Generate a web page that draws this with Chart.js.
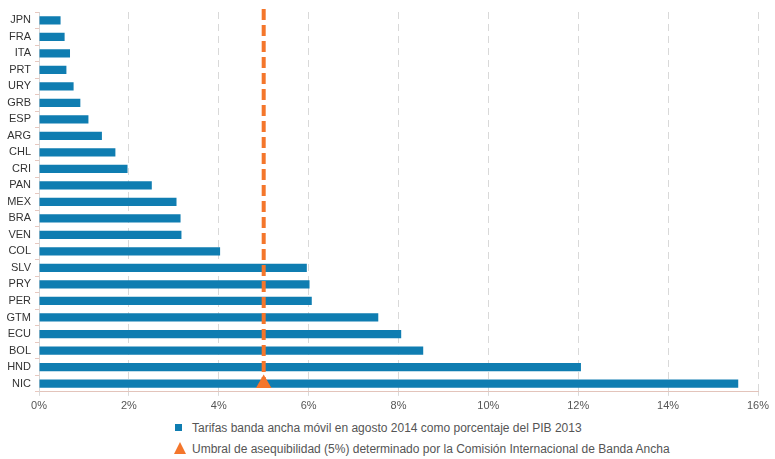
<!DOCTYPE html>
<html>
<head>
<meta charset="utf-8">
<script src="https://cdn.jsdelivr.net/npm/chart.js@4/dist/chart.umd.min.js"></script>
<style>
  html, body { margin: 0; padding: 0; background: #fff; }
  #wrap { position: relative; width: 775px; height: 459px; }
  #chart { position: absolute; left: 0; top: 0; }
  .legend { position: absolute; left: 174px; top: 417px; font: 12px 'Liberation Sans', Arial, sans-serif; color: #555; }
  .lg-row { display: flex; align-items: center; height: 21px; }
  .lg-sq { width: 7px; height: 7px; background: #0f7db1; margin: 0 10px 0 1px; }
  .lg-tri { width: 0; height: 0; border-left: 6px solid transparent; border-right: 6px solid transparent;
            border-bottom: 12px solid #f4762b; margin-right: 6px; margin-top: -2px; }
</style>
</head>
<body>
<div id="wrap">
  <canvas id="chart" width="775" height="417"></canvas>
  <div class="legend" id="legend"></div>
</div>
<script>
/* ── Data ───────────────────────────────────────────────── */
const countries = ['JPN','FRA','ITA','PRT','URY','GRB','ESP','ARG','CHL','CRI','PAN','MEX',
                   'BRA','VEN','COL','SLV','PRY','PER','GTM','ECU','BOL','HND','NIC'];
const tariffPct = [0.48, 0.57, 0.69, 0.61, 0.77, 0.92, 1.10, 1.40, 1.70, 1.97, 2.51, 3.06,
                   3.15, 3.17, 4.03, 5.96, 6.02, 6.07, 7.55, 8.06, 8.55, 12.06, 15.56];
const threshold = 5;
const xTicks = [0, 2, 4, 6, 8, 10, 12, 14, 16];

const barLabel  = 'Tarifas banda ancha móvil en agosto 2014 como porcentaje del PIB 2013';
const lineLabel = 'Umbral de asequibilidad (5%) determinado por la Comisión Internacional de Banda Ancha';

const BLUE = '#0f7db1';
const ORANGE = '#f4762b';
const FONT = "'Liberation Sans', Arial, sans-serif";

/* ── Chart ──────────────────────────────────────────────── */
new Chart(document.getElementById('chart'), {
  type: 'bar',
  data: {
    labels: countries,
    datasets: [
      {
        type: 'line',
        label: lineLabel,
        order: 0,
        xAxisID: 'x',
        yAxisID: 'yLine',
        clip: false,
        data: [{ x: threshold, y: -0.68 }, { x: threshold, y: countries.length - 1 }],
        borderColor: ORANGE,
        borderWidth: 4,
        borderDash: [11, 5],
        pointStyle: 'triangle',
        pointRadius: [0, 9],
        pointBorderWidth: 0,
        pointBackgroundColor: ORANGE
      },
      {
        type: 'bar',
        label: barLabel,
        order: 1,
        xAxisID: 'x',
        yAxisID: 'y',
        data: tariffPct,
        backgroundColor: BLUE,
        grouped: false,
        barPercentage: 0.5,
        categoryPercentage: 1
      }
    ]
  },
  options: {
    indexAxis: 'y',
    responsive: false,
    animation: false,
    layout: { padding: { top: 12, right: 17, bottom: 0, left: 0 } },
    plugins: { legend: { display: false }, tooltip: { enabled: false } },
    scales: {
      x: {
        type: 'linear',
        min: 0,
        max: 16,
        afterBuildTicks: s => { s.ticks = xTicks.map(v => ({ value: v })); },
        ticks: { callback: v => v + '%', color: '#555', font: { family: FONT, size: 11 }, padding: 4 },
        grid: { color: '#d9d9d9', tickLength: 4 },
        border: { color: '#e3c4bb', dash: [7, 5] }
      },
      y: {
        type: 'category',
        offset: true,
        afterFit: s => { s.width = 39; },
        ticks: { color: '#333', font: { family: FONT, size: 11 }, padding: 4 },
        grid: { offset: true, drawOnChartArea: false, color: '#e8c8bf', tickLength: 4 },
        border: { color: '#d6d6d6' }
      },
      yLine: {
        type: 'linear',
        display: false,
        offset: false,
        reverse: true,
        min: -0.5,
        max: countries.length - 0.5
      }
    }
  }
});

/* ── HTML legend ────────────────────────────────────────── */
document.getElementById('legend').innerHTML = `
  <div class="lg-row"><div class="lg-sq"></div><span>${barLabel}</span></div>
  <div class="lg-row"><div class="lg-tri"></div><span>${lineLabel}</span></div>`;
</script>
</body>
</html>
